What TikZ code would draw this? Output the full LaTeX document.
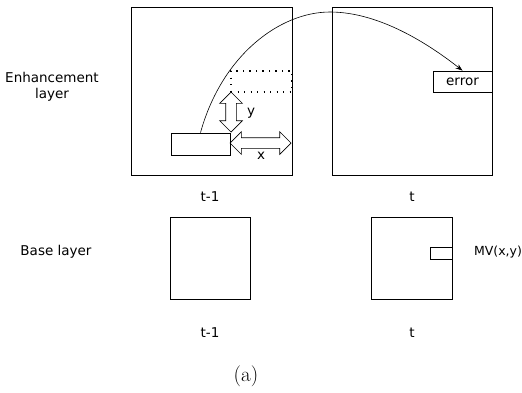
\documentclass[tikz,border=0pt]{standalone}
\usepackage{fontspec}
\setsansfont{DejaVu Sans}
\usetikzlibrary{arrows.meta,positioning,shapes.arrows}

\begin{document}
\begin{tikzpicture}[
    x=1pt, y=-1pt,
    frame/.style={draw, line width=0.8pt, inner sep=0pt, minimum width=#1},
    searcharea/.style={draw, line width=1.2pt, dash pattern=on 1.2pt off 5.3pt, inner sep=0pt},
    motionarrow/.style={double arrow, draw, line width=0.7pt, inner sep=5pt, double arrow head extend=6pt, minimum width=22pt},
    curve/.style={-{Stealth[length=7pt,width=5pt]}, line width=0.6pt},
    every node/.style={font=\sffamily\fontsize{13.5}{16.5}\selectfont}
]
\useasboundingbox (0,0) rectangle (522,392);

% Enhancement layer frames
\node[frame=161pt, minimum height=168pt] (enhprev) at (211.5,91) {};
\node[frame=160pt, minimum height=168pt] (enhcur) at (412,91) {};

% Base layer frames
\node[frame=80pt, minimum height=82pt] (baseprev) at (210,258) {};
\node[frame=81pt, minimum height=82pt] (basecur) at (411.5,258) {};

% Blocks inside frames
\node[frame=59pt, minimum height=22pt] (block) at (200.5,144) {};
\node[searcharea, minimum width=61pt, minimum height=21pt] (search) at (261.5,81.5) {};
\node[frame=59pt, minimum height=21pt] (errorbox) at (462.5,81.5) {error};
\node[frame=22pt, minimum height=12pt] (mvbox) at (441,253) {};

% Displacement arrows
\node[motionarrow, minimum height=40pt, rotate=90] (dy) at (231,112) {};
\node[motionarrow, minimum height=61pt] (dx) at (260.5,143) {};
\node (ylabel) at (251,113) {y};
\node (xlabel) at (261,156) {x};

% Prediction curve
\draw[curve] (block.north) .. controls (222,55) and (280,12) .. (330,12)
    .. controls (380,12) and (430,45) .. (errorbox.north);

% Layer names
\node[align=center] (enhname) at (52,87) {Enhancement\\layer};
\node (basename) at (56,252) {Base layer};
\node[font=\sffamily\fontsize{12.5}{15}\selectfont] (mvname) at (498,252) {MV(x,y)};

% Time labels
\node (tprevtop) at (210,197) {t-1};
\node (tcurtop) at (412,197) {t};
\node (tprevbot) at (210,333) {t-1};
\node (tcurbot) at (412,333) {t};

% Caption
\node[font=\rmfamily\fontsize{21}{24}\selectfont] (caption) at (246,376) {(a)};

\end{tikzpicture}
\end{document}
